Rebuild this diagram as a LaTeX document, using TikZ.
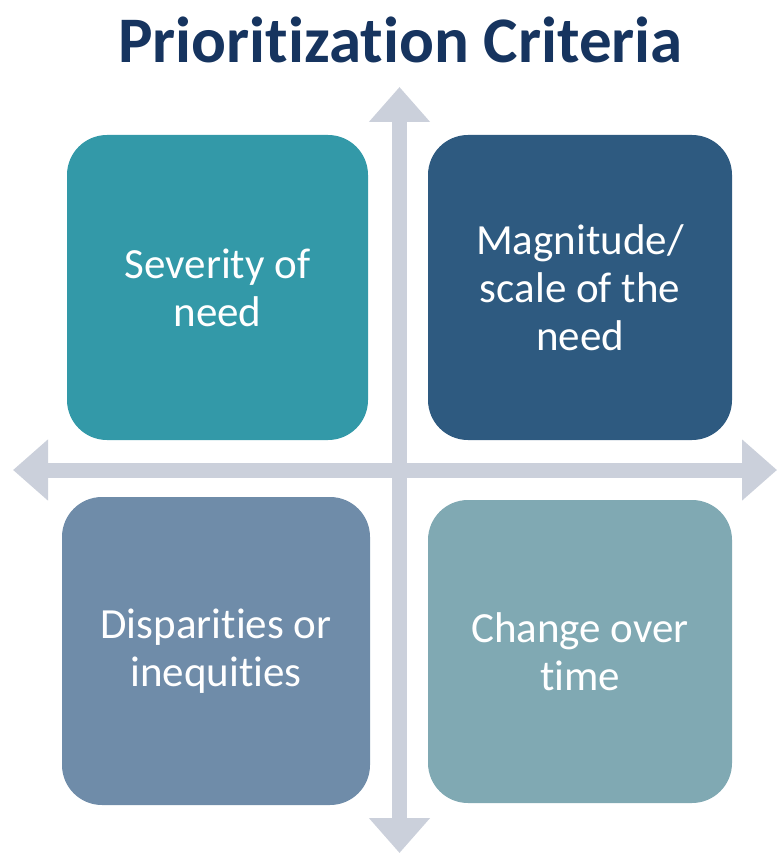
\documentclass[tikz,border=0pt]{standalone}
\usepackage{fontspec}
\setmainfont{Carlito}[Ligatures={NoCommon,NoContextual}]
\usetikzlibrary{arrows.meta}
\definecolor{titelblau}{HTML}{16345F}
\definecolor{tuerkis}{HTML}{3399A8}
\definecolor{dunkelblau}{HTML}{2E5A80}
\definecolor{graublau}{HTML}{6F8CA9}
\definecolor{blassgruen}{HTML}{80A9B3}
\definecolor{achsgrau}{HTML}{CBD0DB}
\begin{document}
\begin{tikzpicture}[x=0.5pt,y=-0.5pt,
  kasten/.style={rounded corners=20pt, inner sep=0pt, text=white, align=center,
    font=\fontsize{21.5}{24}\selectfont},
  achse/.style={draw=achsgrau, line width=7.5pt,
    {Triangle[length=17.5pt,width=29.5pt]}-{Triangle[length=17.5pt,width=29.5pt]}}]
\useasboundingbox (0,0) rectangle (777,855);
\coordinate (oben) at (399.5,87);
\coordinate (unten) at (399.5,853);
\coordinate (links) at (13,470);
\coordinate (rechts) at (777,470);
\draw[achse] (unten) -- (oben);
\draw[achse] (links) -- (rechts);
\node[anchor=base, text=titelblau, font=\fontsize{32.5}{39}\selectfont\bfseries]
  (titel) at (400.5,63) {Prioritization Criteria};
\node[kasten, fill=tuerkis, minimum width=150.5pt, minimum height=152.5pt]
  (schwere) at (217.5,287.5) {Severity of\\need};
\node[kasten, fill=dunkelblau, minimum width=152pt, minimum height=152.5pt]
  (ausmass) at (580,287.5) {Magnitude/\\scale of the\\need};
\node[kasten, fill=graublau, minimum width=154pt, minimum height=154pt]
  (ungleich) at (216,651) {Disparities or\\inequities};
\node[kasten, fill=blassgruen, minimum width=152pt, minimum height=151.5pt]
  (wandel) at (580,651.5) {Change over\\time};
\end{tikzpicture}
\end{document}
